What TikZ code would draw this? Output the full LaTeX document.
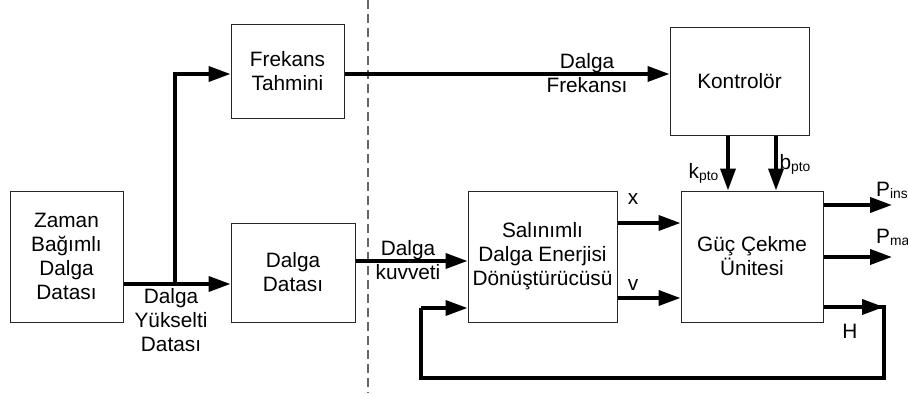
\documentclass[tikz,border=0pt]{standalone}
\usepackage{fontspec}
\setmainfont{Liberation Sans}
\usetikzlibrary{arrows.meta}
\newcommand{\subtxt}[1]{\raisebox{-2.5pt}{\fontsize{13.8}{15}\selectfont #1}}
\begin{document}
\begin{tikzpicture}[x=1pt,y=-1pt,
  blk/.style={draw=black!85, line width=1pt, rectangle, align=center, inner sep=0pt, font=\fontsize{20.8}{24}\selectfont},
  conn/.style={line width=3.7pt, draw=black},
  arr/.style={conn, -{Triangle[length=22pt,width=15pt]}},
  lbl/.style={align=center, inner sep=0pt, font=\fontsize{20.8}{24}\selectfont},
  dashline/.style={draw=black!60, line width=1.5pt, dash pattern=on 9pt off 5pt}]
\useasboundingbox (0,0) rectangle (908,399);
% blocks
\node[blk, minimum width=113pt, minimum height=131pt] (zd) at (66.5,256.5) {Zaman\\Bağımlı\\Dalga\\Datası};
\node[blk, minimum width=113pt, minimum height=94pt] (ft) at (287.5,71) {Frekans\\Tahmini};
\node[blk, minimum width=124pt, minimum height=99pt] (dd) at (293,272.5) {Dalga\\Datası};
\node[blk, minimum width=149pt, minimum height=131pt] (so) at (542.5,256.5) {Salınımlı\\Dalga Enerjisi\\Dönüştürücüsü};
\node[blk, minimum width=142pt, minimum height=131pt] (gc) at (752,256.5) {Güç Çekme\\Ünitesi};
\node[blk, minimum width=139pt, minimum height=108pt] (ko) at (739.5,81) {Kontrolör};
% dashed separator
\coordinate (dtop) at (368,0);
\coordinate (dbot) at (368,393);
\draw[dashline] (dtop) -- (dbot);
% helper coordinates
\coordinate (sp) at (175,284);
\coordinate (f1) at ([yshift=-3pt]ft.east);
\coordinate (rk) at (0,261);
\coordinate (rx) at (0,223);
\coordinate (rv) at (0,298);
\coordinate (rh) at (0,307);
\coordinate (rfb) at (0,308);
\coordinate (rpi) at (0,205);
\coordinate (rpm) at (0,257);
\coordinate (ck) at (728,0);
\coordinate (cb) at (776,0);
\coordinate (hc) at (884,307);
\coordinate (hb) at (884,378);
\coordinate (fb) at (421,378);
\coordinate (ft2) at (421,308);
\coordinate (pe) at (892,0);
% connectors
\draw[arr] (sp -| zd.east) -- (sp -| dd.west);
\draw[arr] (sp) |- ([yshift=-3pt]ft.west);
\draw[arr] (f1) -- (f1 -| ko.west);
\draw[arr] (dd.east |- rk) -- (so.west |- rk);
\draw[arr] (so.east |- rx) -- (gc.west |- rx);
\draw[arr] (so.east |- rv) -- (gc.west |- rv);
\draw[arr] (ko.south -| ck) -- (gc.north -| ck);
\draw[arr] (ko.south -| cb) -- (gc.north -| cb);
\draw[arr] (gc.east |- rpi) -- (pe |- rpi);
\draw[arr] (gc.east |- rpm) -- (pe |- rpm);
\draw[conn] (gc.east |- rh) -- (hc) -- (hb) -- (fb) -- (ft2);
\draw[arr] (gc.east |- rh) -- (hc);
\draw[arr] (ft2) -- (so.west |- rfb);
% labels
\node[lbl] (l1) at (171,320) {Dalga\\Yükselti\\Datası};
\node[lbl] (l2) at (587,73) {Dalga\\Frekansı};
\node[lbl] (l3) at (408,260) {Dalga\\kuvveti};
\node[lbl] (lx) at (633,199) {x};
\node[lbl] (lv) at (633,285) {v};
\node[lbl] (lh) at (850,331) {H};
\node[lbl, anchor=base] (lk) at (703.5,178) {k\subtxt{pto}};
\node[lbl, anchor=base] (lb) at (795,169) {b\subtxt{pto}};
\node[lbl, anchor=base west] (lpi) at (876,196) {P\subtxt{ins}};
\node[lbl, anchor=base west] (lpm) at (876,243) {P\subtxt{ma}};
\end{tikzpicture}
\end{document}
